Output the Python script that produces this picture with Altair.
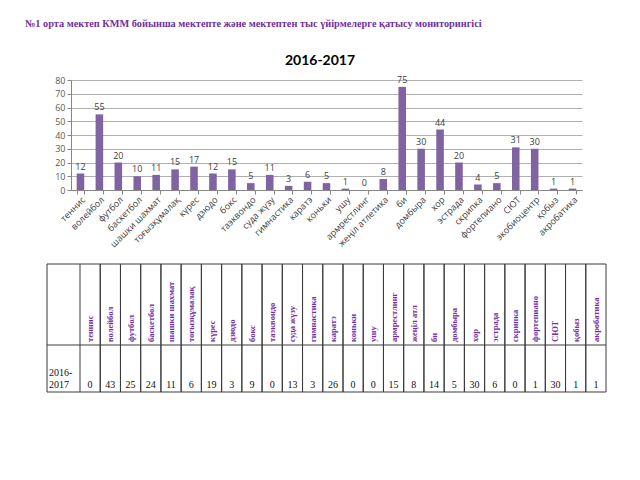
import altair as alt
import pandas as pd

heading = "№1 орта мектеп КММ бойынша мектепте және мектептен тыс үйірмелерге қатысу мониторингісі"
chart_title = "2016-2017"

activities = ["теннис", "волейбол", "футбол", "баскетбол", "шашки шахмат", "тоғызқұмалақ",
              "күрес", "дзюдо", "бокс", "таэквондо", "суда жүзу", "гимнастика", "каратэ",
              "коньки", "ушу", "армрестлинг", "жеңіл атлетика", "би", "домбыра", "хор",
              "эстрада", "скрипка", "фортепиано", "СЮТ", "экобиоцентр", "қобыз", "акробатика"]
participants = [12, 55, 20, 10, 11, 15, 17, 12, 15, 5, 11, 3, 6, 5, 1, 0, 8, 75, 30, 44,
                20, 4, 5, 31, 30, 1, 1]

table_columns = ["теннис", "волейбол", "футбол", "баскетбол", "шашки шахмат", "тоғызқұмалақ",
                 "күрес", "дзюдо", "бокс", "таэквондо", "суда жүзу", "гимнастика", "каратэ",
                 "коньки", "ушу", "армрестлинг", "жеңіл атл", "би", "домбыра", "хор",
                 "эстрада", "скрипка", "фортепиано", "СЮТ", "қобыз", "акробатика"]
table_values = [0, 43, 25, 24, 11, 6, 19, 3, 9, 0, 13, 3, 26, 0, 0, 15, 8, 14, 5, 30, 6, 0, 1,
                30, 1, 1]
table_row_label = "2016-\n2017"
y_ticks = [0, 10, 20, 30, 40, 50, 60, 70, 80]

bars_df = pd.DataFrame({"activity": activities, "count": participants})
table_df = pd.DataFrame({"col": table_columns, "value": table_values})
one = pd.DataFrame({"k": [0]})

AX = "#868686"
LINE = "#3a3a3a"

x_axis = alt.Axis(labelAngle=-45, labelFontSize=9, labelFont="Open Sans",
                  labelColor="#404040", tickBand="extent", ticks=True, tickSize=4,
                  tickColor=AX, domainColor=AX, labelPadding=1, labelLimit=200)
y_axis = alt.Axis(values=y_ticks, grid=True, gridColor="#b0b0b0", ticks=True, tickSize=4,
                  tickColor=AX, domainColor=AX, labelFontSize=9, labelOverlap=False,
                  labelFont="Open Sans", labelColor="#595959", labelPadding=2)
x_scale = alt.Scale(paddingInner=0.6, paddingOuter=0.3)
y_scale = alt.Scale(domain=[0, 80])

bars = alt.Chart(bars_df).mark_bar(color="#8064A2").encode(
    x=alt.X("activity:N", sort=activities, title=None, scale=x_scale, axis=x_axis),
    y=alt.Y("count:Q", title=None, scale=y_scale, axis=y_axis))
bar_text = alt.Chart(bars_df).mark_text(baseline="bottom", dy=-2, fontSize=9,
                                        font="Open Sans", color="#404040").encode(
    x=alt.X("activity:N", sort=activities, title=None, scale=x_scale, axis=x_axis),
    y=alt.Y("count:Q", title=None, scale=y_scale, axis=y_axis),
    text="count:Q")
bar_layer = alt.layer(bars, bar_text)

t_scale = alt.Scale(range=[9, 535], paddingInner=0, paddingOuter=0)

header = alt.Chart(table_df).mark_text(angle=270, align="left", baseline="middle",
                                       font="Liberation Serif", fontSize=8.5,
                                       fontWeight="bold", color="#7030A0").encode(
    x=alt.X("col:N", sort=table_columns, axis=None, scale=t_scale),
    y=alt.value(262), text="col:N")
values = alt.Chart(table_df).mark_text(baseline="alphabetic", font="Liberation Serif",
                                       fontSize=10, color="#111111").encode(
    x=alt.X("col:N", sort=table_columns, axis=None, scale=t_scale),
    y=alt.value(308), text="value:Q")
vlines_l = alt.Chart(table_df).mark_rule(color=LINE, strokeWidth=1).encode(
    x=alt.X("col:N", sort=table_columns, axis=None, scale=t_scale, bandPosition=0),
    y=alt.value(184), y2=alt.value(312))
vlines_r = alt.Chart(table_df).mark_rule(color=LINE, strokeWidth=1).encode(
    x=alt.X("col:N", sort=table_columns, axis=None, scale=t_scale, bandPosition=1),
    y=alt.value(184), y2=alt.value(312))
table_layer = alt.layer(vlines_l, vlines_r, header, values)

h_top = alt.Chart(one).mark_rule(color=LINE, strokeWidth=1).encode(
    x=alt.value(-24), x2=alt.value(535), y=alt.value(184))
h_mid = alt.Chart(one).mark_rule(color=LINE, strokeWidth=1).encode(
    x=alt.value(-24), x2=alt.value(535), y=alt.value(265))
h_bot = alt.Chart(one).mark_rule(color=LINE, strokeWidth=1).encode(
    x=alt.value(-24), x2=alt.value(535), y=alt.value(312))
v_left = alt.Chart(one).mark_rule(color=LINE, strokeWidth=1).encode(
    x=alt.value(-24), y=alt.value(184), y2=alt.value(312))
row_label = alt.Chart(pd.DataFrame({"t": [table_row_label]})).mark_text(
    align="left", baseline="alphabetic", lineBreak="\n", lineHeight=12,
    font="Liberation Serif", fontSize=10, color="#111111").encode(
    x=alt.value(-22), y=alt.value(296), text="t:N")

head_text = alt.Chart(pd.DataFrame({"t": [heading]})).mark_text(
    align="left", baseline="middle", font="Liberation Serif", fontWeight="bold",
    fontSize=10.3, color="#7030A0").encode(x=alt.value(-46), y=alt.value(-56), text="t:N")
sub_text = alt.Chart(pd.DataFrame({"t": [chart_title]})).mark_text(
    align="center", baseline="middle", font="Lato", fontWeight="bold",
    fontSize=14, color="#000000").encode(x=alt.value(249), y=alt.value(-19), text="t:N")

chart = alt.layer(bar_layer, table_layer, h_top, h_mid, h_bot, v_left, row_label,
                  head_text, sub_text).resolve_scale(x="independent").properties(
    width=511, height=110,
    autosize=alt.AutoSizeParams(type="none"),
    padding={"left": 63, "top": 72, "right": 40, "bottom": 230},
).configure_view(stroke=None)

chart.save("out.html", embed_options={"renderer": "svg", "actions": False})
